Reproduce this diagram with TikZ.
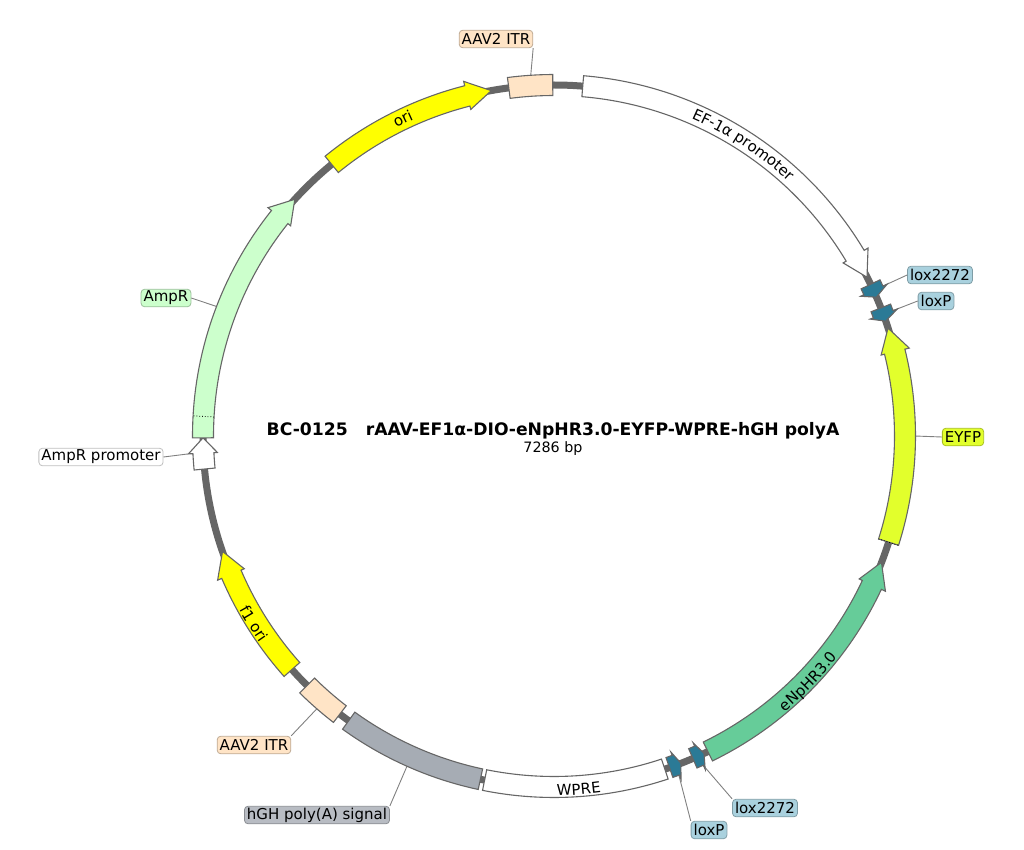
\documentclass[tikz,border=0pt]{standalone}
\usepackage{xcolor}
\usepackage{fontspec}
\setmainfont{DejaVu Sans}
\usepackage{tikz}
\usetikzlibrary{calc,positioning,shapes.misc,decorations.text}
\definecolor{backbone}{HTML}{666666}
\definecolor{peach}{HTML}{FFE4C6}
\definecolor{loxblue}{HTML}{2B7A96}
\definecolor{loxlight}{HTML}{A9D1DE}
\definecolor{eyfpc}{HTML}{E2FF2C}
\definecolor{halo}{HTML}{66CC99}
\definecolor{amp}{HTML}{CCFFCC}
\definecolor{polya}{HTML}{A6ACB4}
\definecolor{polyalight}{HTML}{B8BCC3}
\definecolor{orichalk}{HTML}{FFFF00}
\tikzset{
    feat/.style={
    draw=backbone,line width=1.1pt,line join=miter
    },
    tag/.style={
    rectangle,rounded corners=3.5pt,draw=#1!75!black,line width=0.8pt,fill=#1,text=black,
    font=\fontsize{15}{15}\selectfont,inner sep=0pt,inner xsep=2.5pt,minimum height=17.5pt
    },
    leader/.style={draw=black!50,line width=0.9pt},
    curved/.style={
    decorate,decoration={text along path,text align=center,raise=-5pt,
    text={|\fontsize{15}{15}\selectfont|#1}}
    },
    curvedb/.style={
    decorate,decoration={text along path,text align=center,raise=-8.5pt,
    text={|\fontsize{15}{15}\selectfont|#1}}
    },
}
% box between two angles
\newcommand{\boxfeat}[3]{
  \draw[feat,#1] (#2:361.5) arc[start angle=#2,end angle=#3,radius=361.5]
    -- (#3:340.5) arc[start angle=#3,end angle=#2,radius=340.5] -- cycle;
}
% arrow: tail, shoulder, tip
\newcommand{\arrowfeat}[4]{
  \draw[feat,#1] (#2:361.5) arc[start angle=#2,end angle=#3,radius=361.5]
    -- (#3:366) -- (#4:351) -- (#3:337) -- (#3:340.5)
    arc[start angle=#3,end angle=#2,radius=340.5] -- cycle;
}
\begin{document}
\begin{tikzpicture}[x=1pt,y=1pt]
  \useasboundingbox (-554,436) rectangle (470,-413);
  \draw[backbone,line width=7pt] (0,0) circle[radius=351];

  \coordinate (itrtopend)  at (93.7:361);
  \coordinate (lox2end)    at (24.5:362);
  \coordinate (loxpend)    at (20.3:362);
  \coordinate (eyfpend)    at (0:361);
  \coordinate (lox2bend)   at (-65.6:362);
  \coordinate (loxpbend)   at (-69.8:362);
  \coordinate (polyaend)   at (-114:361);
  \coordinate (itrbotend)  at (-131:361);
  \coordinate (promend)    at (182.8:366);
  \coordinate (amprend)    at (159:361);

  \node[tag=peach] (itrtop)    at (-58,397)   {AAV2 ITR};
  \node[tag=loxlight] (lox2)   at (386,161)   {lox2272};
  \node[tag=loxlight] (loxp)   at (382,135)   {loxP};
  \node[tag=eyfpc] (eyfp)      at (409,-1)    {EYFP};
  \node[tag=loxlight] (lox2b)  at (211,-372)  {lox2272};
  \node[tag=loxlight] (loxpb)  at (155,-394)  {loxP};
  \node[tag=polyalight] (polya) at (-237,-379) {hGH poly(A) signal};
  \node[tag=peach] (itrbot)    at (-300,-309) {AAV2 ITR};
  \node[tag=white] (prom)      at (-453,-21)  {AmpR promoter};
  \node[tag=amp] (ampr)        at (-388,138)  {AmpR};

  \path[leader]
    (itrtop.south east) edge (itrtopend)
    (lox2.west) edge (lox2end)
    (loxp.west) edge (loxpend)
    (eyfp.west) edge (eyfpend)
    (lox2b.north west) edge (lox2bend)
    (loxpb.north west) edge (loxpbend)
    (polya.north east) edge (polyaend)
    (itrbot.north east) edge (itrbotend)
    (prom.east) edge (promend)
    (ampr.east) edge (amprend);

  \boxfeat{fill=peach}{97.4}{90.2}
  \arrowfeat{fill=white}{85.3}{30.9}{26.9}
  \arrowfeat{fill=loxblue}{25.6}{24.5}{23.3}
  \arrowfeat{fill=loxblue}{21.4}{20.3}{19.1}
  \arrowfeat{fill=eyfpc}{-17.6}{13.9}{17.9}
  \arrowfeat{fill=halo}{-64}{-25.1}{-21.1}
  \arrowfeat{fill=loxblue}{-66.7}{-65.6}{-64.7}
  \arrowfeat{fill=loxblue}{-70.8}{-69.7}{-68.8}
  \boxfeat{fill=white}{-71.6}{-101.4}
  \boxfeat{fill=polya}{-102.1}{-125.8}
  \boxfeat{fill=peach}{-127.6}{-134.7}
  \arrowfeat{fill=orichalk}{-138.3}{-156.8}{-160.8}
  \arrowfeat{fill=white}{185.4}{182.8}{180.3}
  \arrowfeat{fill=amp}{180.3}{141.4}{137.6}
  \arrowfeat{fill=orichalk}{129.3}{104.3}{100.3}
  \draw[black,dotted,line width=0.8pt] (176.8:340.5) -- (176.8:361.5);
  \draw[black,dotted,line width=0.8pt] (-17.6:340.5) -- (-17.6:361.5);

  \path[curved=EF-1α promoter] (73:351) arc[start angle=73,end angle=41,radius=351];
  \path[curved=ori] (126:351) arc[start angle=126,end angle=105,radius=351];
  \path[curvedb=eNpHR3.0] (-60:351) arc[start angle=-60,end angle=-28,radius=351];
  \path[curvedb=WPRE] (-99.5:351) arc[start angle=-99.5,end angle=-72.5,radius=351];
  \path[curvedb=f1 ori] (-157:351) arc[start angle=-157,end angle=-139,radius=351];

  \node[font=\fontsize{17.2}{17.2}\selectfont\bfseries] (title) at (-1,5) {BC-0125\ \ \ rAAV-EF1α-DIO-eNpHR3.0-EYFP-WPRE-hGH polyA};
  \node[font=\fontsize{14.3}{14.3}\selectfont] (size) at (-1,-13) {7286 bp};
\end{tikzpicture}
\end{document}
